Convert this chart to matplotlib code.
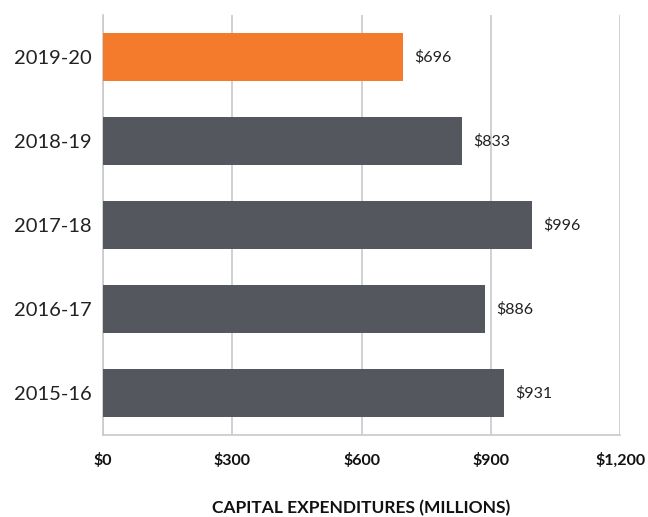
import matplotlib.pyplot as plt

plt.rcParams["font.family"] = ["Lato", "DejaVu Sans"]

years = ["2019-20", "2018-19", "2017-18", "2016-17", "2015-16"]
values = [696, 833, 996, 886, 931]
colors = ["#F47B2B", "#54575E", "#54575E", "#54575E", "#54575E"]
xticks = [0, 300, 600, 900, 1200]
xticklabels = ["$0", "$300", "$600", "$900", "$1,200"]


def main() -> None:
    fig = plt.figure(figsize=(6.48, 5.17), dpi=100)
    ax = fig.add_axes([0.159, 0.159, 0.798, 0.812])

    pos = list(range(len(years)))[::-1]
    ax.barh(pos, values, height=0.57, color=colors, zorder=3)
    for p, v in zip(pos, values):
        ax.text(v + 26, p, f"${v}", va="center", ha="left", fontsize=11.5, color="#222222")

    ax.set_xlim(0, 1200)
    ax.set_ylim(-0.5, 4.5)
    ax.set_yticks(pos)
    ax.set_yticklabels(years, fontsize=14.5, color="#222222")
    ax.set_xticks(xticks)
    ax.set_xticklabels(xticklabels, fontsize=11.5, fontweight="bold", color="#111111")
    ax.tick_params(axis="both", length=0)
    ax.tick_params(axis="x", pad=13)
    ax.tick_params(axis="y", pad=8)

    ax.grid(axis="x", color="#C8CACD", lw=1.2, zorder=0)
    for s in ["top", "right"]:
        ax.spines[s].set_visible(False)
    for s in ["left", "bottom"]:
        ax.spines[s].set_color("#C8CACD")
        ax.spines[s].set_linewidth(1.2)

    fig.text(0.5 * (0.159 + 0.957), 1 - 508 / 517, "CAPITAL EXPENDITURES (MILLIONS)",
             ha="center", va="center", fontsize=12.5, fontweight="bold", color="#111111")

    fig.savefig("out.png", dpi=100)
    plt.close(fig)


if __name__ == "__main__":
    main()
